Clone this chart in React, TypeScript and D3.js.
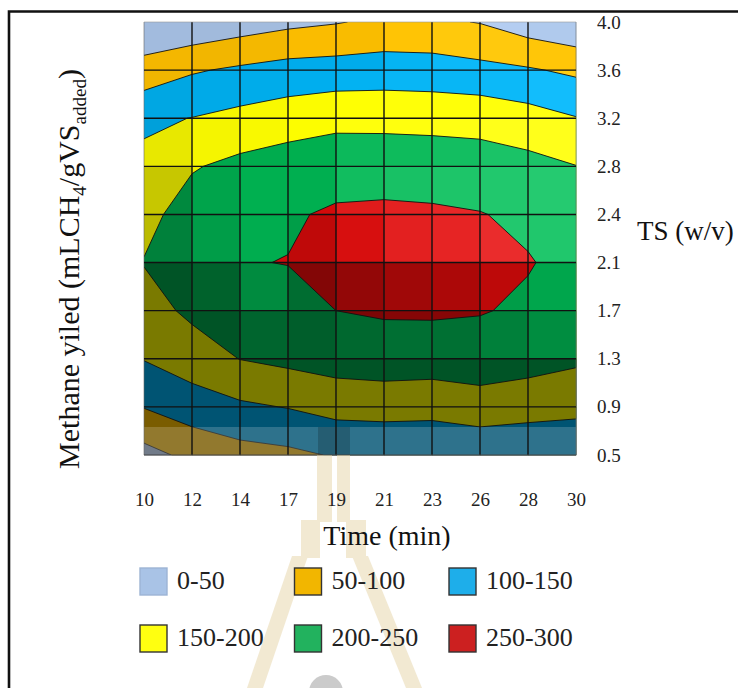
import React, { useEffect, useRef } from 'react';
import * as d3 from 'd3';

// time (min) across, TS (w/v) down the right side
const times = ['10', '12', '14', '17', '19', '21', '23', '26', '28', '30'];
const tsLevels = ['4.0', '3.6', '3.2', '2.8', '2.4', '2.1', '1.7', '1.3', '0.9', '0.5'];

// methane yield (mLCH4/gVS added), one row per TS level, one value per time
const ts40 = [5, 8, 24, 38, 47, 60, 58, 48, 23, 6];
const ts36 = [70, 95, 108, 119, 122, 125, 123, 114, 105, 91];
const ts32 = [141, 151, 164, 175, 186, 185, 183, 183, 170, 152];
const ts28 = [162, 196, 213, 225, 231, 232, 230, 222, 215, 201];
const ts24 = [185, 222, 240, 245, 256, 258, 256, 252, 240, 225];
const ts21 = [202, 235, 248, 251, 268, 275, 273, 268, 253, 235];
const ts17 = [180, 210, 235, 235, 250, 255, 256, 253, 242, 228];
const ts13 = [152, 175, 201, 212, 222, 228, 226, 225, 220, 208];
const ts09 = [102, 126, 142, 152, 167, 168, 165, 180, 170, 165];
const ts05 = [33, 63, 81, 89, 104, 110, 112, 108, 109, 105];
const yieldRows = [ts40, ts36, ts32, ts28, ts24, ts21, ts17, ts13, ts09, ts05];

const bandThresholds = [0, 50, 100, 150, 200, 250];
const bandLabels = ['0-50', '50-100', '100-150', '150-200', '200-250', '250-300'];
const bandColors = ['#aac4e8', '#ffc000', '#00b0f0', '#ffff00', '#00b050', '#d40a0a'];
const legendColors = ['#a9c3e6', '#f2b600', '#1eaeea', '#ffff10', '#22b25e', '#cc2020'];

const W = 738;
const H = 688;
const plot = { left: 144, right: 576, top: 22, bottom: 455 };
const font = "'Liberation Serif', 'Times New Roman', serif";

// multiply a colour, then lift it toward white
function shade(c: string, m: number, w: number) {
    const rgb = d3.rgb(c);
    const f = (v: number) => {
        const s = Math.min(255, v * m);
        return s + (255 - s) * w;
    };
    return d3.rgb(f(rgb.r), f(rgb.g), f(rgb.b)).formatHex();
}

const App = () => {
    const svgRef = useRef<SVGSVGElement>(null);

    useEffect(() => {
        const svg = d3.select(svgRef.current);
        svg.selectAll('*').remove();

        const nx = times.length;
        const ny = tsLevels.length;

        const x = d3.scalePoint().domain(times).range([plot.left, plot.right]);
        const y = d3.scalePoint().domain(tsLevels).range([plot.top, plot.bottom]);
        // d3.contours puts grid node i at i + 0.5
        const gx = d3.scaleLinear().domain([0.5, nx - 0.5]).range([plot.left, plot.right]);
        const gy = d3.scaleLinear().domain([0.5, ny - 0.5]).range([plot.top, plot.bottom]);

        const values = yieldRows.flat();
        const contours = d3.contours().size([nx, ny]).thresholds(bandThresholds)(values);
        const path = d3.geoPath(d3.geoTransform({
            point: function (px: number, py: number) {
                (this as any).stream.point(gx(px), gy(py));
            },
        }));
        const bandPaths = contours.map(c => path(c as any) as string);

        // surface lighting, one facet per grid cell
        const light = [0.45, -0.55, 0.7];
        const lLen = Math.hypot(light[0], light[1], light[2]);
        const L = light.map(v => v / lLen);
        const k = 1 / 30;
        const cells: { i: number; j: number; m: number; w: number }[] = [];
        for (let j = 0; j < ny - 1; j++) {
            for (let i = 0; i < nx - 1; i++) {
                const v00 = yieldRows[j][i], v10 = yieldRows[j][i + 1];
                const v01 = yieldRows[j + 1][i], v11 = yieldRows[j + 1][i + 1];
                const sx = ((v10 + v11) - (v00 + v01)) / 2 * k;
                const sy = ((v01 + v11) - (v00 + v10)) / 2 * k;
                const nLen = Math.hypot(sx, sy, 1);
                const b = Math.max(0, (-sx * L[0] - sy * L[1] + L[2]) / nLen);
                const m = 0.48 + 0.62 * Math.pow(b, 0.7);
                cells.push({ i, j, m, w: Math.max(0, (m - 1) * 1.5) });
            }
        }

        const defs = svg.append('defs');
        defs.append('clipPath')
            .attr('id', 'plot-clip')
            .append('rect')
            .attr('x', plot.left)
            .attr('y', plot.top)
            .attr('width', plot.right - plot.left)
            .attr('height', plot.bottom - plot.top);
        defs.selectAll('clipPath.cell')
            .data(cells)
            .enter()
            .append('clipPath')
            .attr('class', 'cell')
            .attr('id', d => `cell-${d.i}-${d.j}`)
            .append('rect')
            .attr('x', d => x(times[d.i]) as number)
            .attr('y', d => y(tsLevels[d.j]) as number)
            .attr('width', x.step() + 0.3)
            .attr('height', y.step() + 0.3);

        // frame
        svg.append('path')
            .attr('d', `M9,${H} V11.5 H${W}`)
            .attr('fill', 'none')
            .attr('stroke', '#111')
            .attr('stroke-width', 2.6);

        const surface = svg.append('g');
        const cellG = surface.selectAll('g.cell')
            .data(cells)
            .enter()
            .append('g')
            .attr('class', 'cell')
            .attr('clip-path', d => `url(#cell-${d.i}-${d.j})`);
        cellG.selectAll('path')
            .data(d => bandPaths.map((p, bi) => ({ p, fill: shade(bandColors[bi], d.m, d.w) })))
            .enter()
            .append('path')
            .attr('d', d => d.p)
            .attr('fill', d => d.fill);

        const g = svg.append('g').attr('clip-path', 'url(#plot-clip)');
        g.selectAll('path.edge')
            .data(bandPaths.slice(1))
            .enter()
            .append('path')
            .attr('class', 'edge')
            .attr('d', d => d)
            .attr('fill', 'none')
            .attr('stroke', '#111')
            .attr('stroke-width', 0.9);

        // watermark band across the bottom of the scan
        g.append('rect')
            .attr('x', plot.left)
            .attr('y', 427)
            .attr('width', plot.right - plot.left)
            .attr('height', 28)
            .attr('fill', '#fff')
            .attr('opacity', 0.18);
        g.append('rect')
            .attr('x', 318)
            .attr('y', 427)
            .attr('width', 32)
            .attr('height', 28)
            .attr('fill', '#000')
            .attr('opacity', 0.18);

        // grid
        const grid = svg.append('g');
        grid.selectAll('line.v')
            .data(times)
            .enter()
            .append('line')
            .attr('x1', d => x(d) as number)
            .attr('x2', d => x(d) as number)
            .attr('y1', plot.top)
            .attr('y2', plot.bottom)
            .attr('stroke', (d, i) => (i === 0 || i === nx - 1 ? '#666' : '#111'))
            .attr('stroke-width', (d, i) => (i === 0 || i === nx - 1 ? 0.6 : 1.4));
        grid.selectAll('line.h')
            .data(tsLevels)
            .enter()
            .append('line')
            .attr('x1', plot.left)
            .attr('x2', plot.right)
            .attr('y1', d => y(d) as number)
            .attr('y2', d => y(d) as number)
            .attr('stroke', (d, i) => (i === 0 ? '#999' : i === ny - 1 ? '#444' : '#111'))
            .attr('stroke-width', (d, i) => (i === 0 ? 0.6 : i === ny - 1 ? 1 : 1.4));

        // watermark below the plot
        const wm = svg.append('g').attr('fill', '#e6d4a6').attr('opacity', 0.5);
        wm.append('polygon').attr('points', '317,455 332,455 332,522 317,522');
        wm.append('polygon').attr('points', '337,455 350,455 350,522 337,522');
        wm.append('polygon').attr('points', '301,520 320,520 320,558 301,558');
        wm.append('polygon').attr('points', '346,520 366,520 366,558 346,558');
        wm.append('polygon').attr('points', '292,556 308,556 263,688 247,688');
        wm.append('polygon').attr('points', '352,556 368,556 422,688 406,688');
        svg.append('circle')
            .attr('cx', 326)
            .attr('cy', 692)
            .attr('r', 17)
            .attr('fill', '#cbcbcb');

        // axes
        const yAxis = d3.axisRight(y).tickSize(0).tickPadding(21);
        const xAxis = d3.axisBottom(x).tickSize(0).tickPadding(38);

        const ya = svg.append('g')
            .attr('transform', `translate(${plot.right},0)`)
            .call(yAxis);
        ya.select('.domain').remove();
        ya.selectAll('text')
            .attr('font-family', font)
            .attr('font-size', 19)
            .attr('fill', '#222');

        const xa = svg.append('g')
            .attr('transform', `translate(0,${plot.bottom})`)
            .call(xAxis);
        xa.select('.domain').remove();
        xa.selectAll('text')
            .attr('font-family', font)
            .attr('font-size', 19)
            .attr('fill', '#222');

        svg.append('text')
            .attr('x', 637)
            .attr('y', 240)
            .attr('font-family', font)
            .attr('font-size', 27)
            .attr('fill', '#111')
            .text('TS (w/v)');

        svg.append('text')
            .attr('x', 387)
            .attr('y', 545)
            .attr('text-anchor', 'middle')
            .attr('font-family', font)
            .attr('font-size', 28)
            .attr('fill', '#111')
            .text('Time (min)');

        const yt = svg.append('text')
            .attr('transform', 'translate(79,269) rotate(-90)')
            .attr('text-anchor', 'middle')
            .attr('font-family', font)
            .attr('font-size', 30)
            .attr('fill', '#111');
        yt.append('tspan').text('Methane yiled (mLCH');
        yt.append('tspan').attr('font-size', 19).attr('dy', 7).text('4');
        yt.append('tspan').attr('dy', -7).text('/gVS');
        yt.append('tspan').attr('font-size', 19).attr('dy', 7).text('added');
        yt.append('tspan').attr('dy', -7).text(')');

        // legend
        const legend = svg.append('g');
        const items = legend.selectAll('g')
            .data(bandLabels)
            .enter()
            .append('g')
            .attr('transform', (d, i) => `translate(${140 + (i % 3) * 154.5},${568 + Math.floor(i / 3) * 57})`);
        items.append('rect')
            .attr('width', 27)
            .attr('height', 27)
            .attr('fill', (d, i) => legendColors[i])
            .attr('stroke', (d, i) => (i === 0 ? '#9db4d4' : '#333'))
            .attr('stroke-width', 1.4);
        items.append('text')
            .attr('x', 37)
            .attr('y', 21)
            .attr('font-family', font)
            .attr('font-size', 26)
            .attr('fill', '#222')
            .text(d => d);
    }, []);

    return (
        <svg
            ref={svgRef}
            width={W}
            height={H}
            viewBox={`0 0 ${W} ${H}`}
            style={{ position: 'absolute', left: 0, top: 0, background: '#fff' }}
        />
    );
};

export default App;
